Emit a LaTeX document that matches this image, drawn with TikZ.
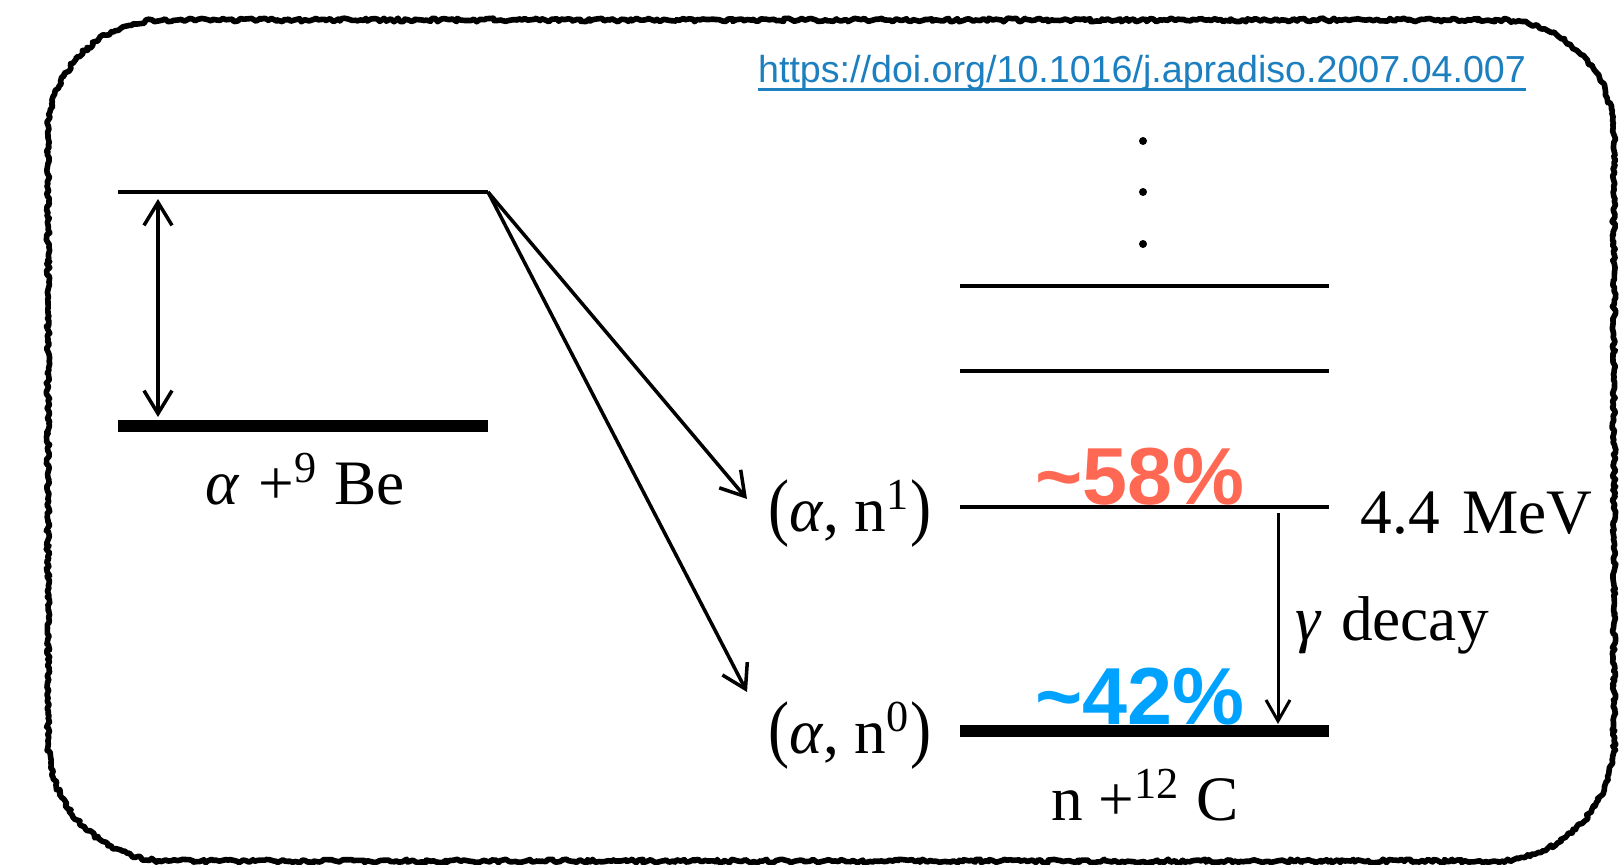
\documentclass[tikz,border=0pt]{standalone}
\usepackage{fontspec}
\setmainfont{Liberation Serif}
\newfontfamily\arial{Liberation Sans}
\usepackage{graphicx}
\usepackage{tikz}
\usetikzlibrary{arrows.meta,decorations.pathmorphing}
\definecolor{doiblue}{RGB}{28,127,192}
\definecolor{hot}{RGB}{255,104,82}
\definecolor{cool}{RGB}{0,162,255}
\newcommand{\tallp}[1]{\scalebox{1}[1.18]{#1}}
\newcommand{\ulink}[1]{\setbox0=\hbox{#1}\rlap{\rule[-2.4pt]{\wd0}{0.9pt}}\box0}
\tikzset{
  lvl/.style={line width=1pt},
  gnd/.style={line width=3.2pt},
  arr/.style={-{Straight Barb[length=2.3mm,width=2.8mm]},line width=1pt},
  dbl/.style={{Straight Barb[length=2.3mm,width=2.8mm]}-{Straight Barb[length=2.3mm,width=2.8mm]},line width=1pt},
  garr/.style={-{Straight Barb[length=2.1mm,width=2.4mm]},line width=0.85pt},
  txt/.style={font=\fontsize{18}{21}\selectfont,inner sep=0pt},
  pct/.style={font=\arial\bfseries\fontsize{23}{27}\selectfont,inner sep=0pt},
  border/.style={line width=1.6pt,line join=round,line cap=round,decorate,decoration={random steps,segment length=0.8pt,amplitude=0.5pt}}
}
\begin{document}
\begin{tikzpicture}[x=0.01cm,y=-0.01cm]
\pgfmathsetseed{7}
\useasboundingbox (0,0) rectangle (1619,865);
\draw[border] (48,135) arc[start angle=180,end angle=270,radius=115] -- (1499,20)
  arc[start angle=270,end angle=360,radius=115] -- (1614,741)
  arc[start angle=0,end angle=90,radius=120] -- (168,861)
  arc[start angle=90,end angle=180,radius=120] -- cycle;
\node[font=\arial\fontsize{10.7}{13}\selectfont,text=doiblue,inner sep=0pt] (doi) at (1142,73) {\ulink{https://doi.org/10.1016/j.apradiso.2007.04.007}};
\coordinate (beHiL) at (118,192);
\coordinate (beHiR) at (488,192);
\coordinate (beLoL) at (118,426);
\coordinate (beLoR) at (488,426);
\draw[lvl] (beHiL) -- (beHiR);
\draw[gnd] (beLoL) -- (beLoR);
\coordinate (qT) at (158,199);
\coordinate (qB) at (158,417);
\draw[dbl] (qT) -- (qB);
\node[txt] (be) at (305,479) {\textit{α}\hspace{0.3em}+\textsuperscript{9} Be};
\foreach \y/\n in {286/3,371/2,507/1}
  \draw[lvl] (960,\y) coordinate (cL\n) -- (1329,\y) coordinate (cR\n);
\draw[gnd] (960,731) coordinate (cL0) -- (1329,731) coordinate (cR0);
\foreach \y/\n in {141/1,192/2,244/3}
  \fill (1143,\y) circle[radius=4] coordinate (dot\n);
\node[txt,anchor=east] (an1) at (932,514) {\tallp{(}\textit{α}, n\textsuperscript{1}\tallp{)}};
\node[txt,anchor=east] (an0) at (932,736) {\tallp{(}\textit{α}, n\textsuperscript{0}\tallp{)}};
\node[txt,anchor=west] (mev) at (1360,513) {4.4\hspace{0.35em}MeV};
\node[txt] (nc) at (1145,795) {n +\textsuperscript{12} C};
\coordinate (t1) at (747,499);
\coordinate (t0) at (747,692);
\draw[arr] (beHiR) -- (t1);
\draw[arr] (beHiR) -- (t0);
\coordinate (gT) at (1278,513);
\coordinate (gB) at (1278,724);
\draw[garr] (gT) -- (gB);
\node[txt,anchor=west] (gd) at (1295,625) {\textit{γ}\hspace{0.3em}decay};
\node[pct,text=hot] (p58) at (1140,477) {\textasciitilde58\%};
\node[pct,text=cool] (p42) at (1140,697) {\textasciitilde42\%};
\end{tikzpicture}
\end{document}
